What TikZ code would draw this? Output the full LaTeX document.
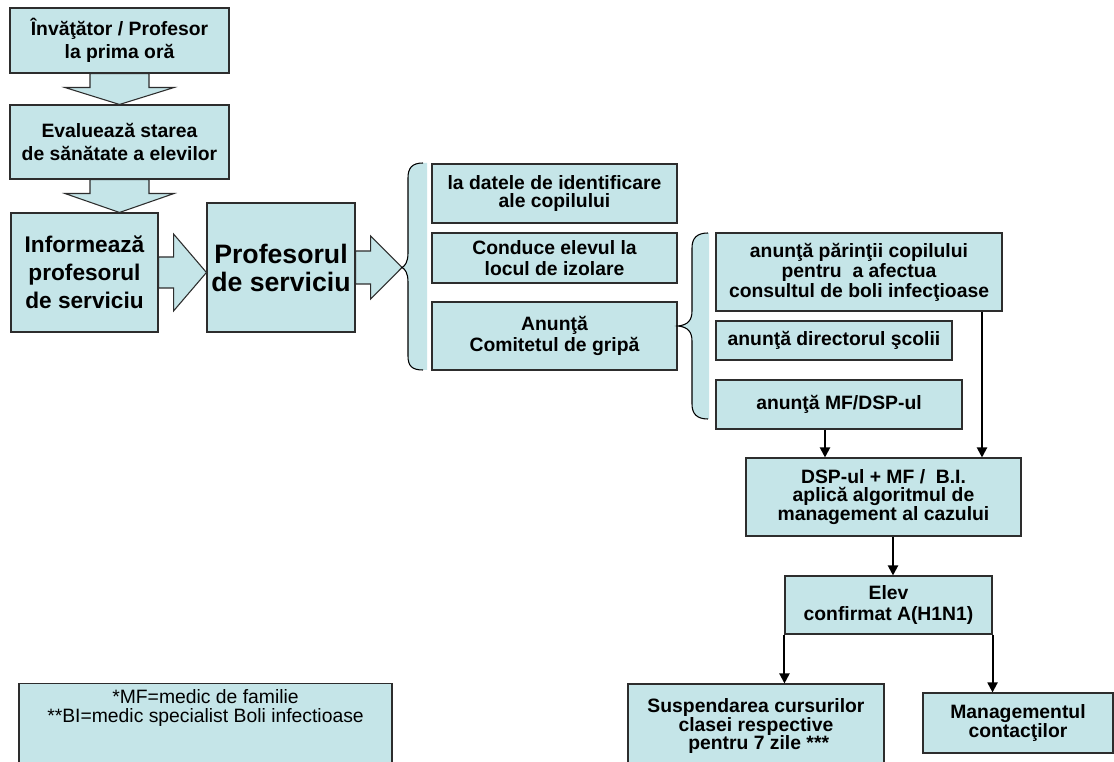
\documentclass[tikz,border=0pt]{standalone}
\usepackage{fontspec}
\setmainfont{Liberation Sans}
\usepackage{tikz}
\usetikzlibrary{ arrows.meta, calc, positioning }
\definecolor{boxfill}{RGB}{197,229,232}
\definecolor{boxline}{RGB}{45,45,45}
\tikzset{
>={Triangle[length=7.5pt,width=7.5pt]}, % filled arrow heads
box/.style={draw=boxline, line width=0.8pt, fill=boxfill, align=center, inner sep=1pt}, % every text box
sz/.style 2 args={minimum width=#1*0.75pt, minimum height=#2*0.75pt}, % box size in pixels
txt/.style={font=\bfseries\fontsize{14.5}{#1}\selectfont}, % bold text, #1 is the line skip
blockarrow/.style={draw=boxline, line width=0.8pt, fill=boxfill, line join=miter}, % fat arrows on the left
brace/.style={draw=black, line width=0.8pt},
arr/.style={->, line width=1.5pt}, % thin arrows on the right
}

\begin{document}
\begin{tikzpicture}[x=0.75pt, y=-0.75pt]%one unit is one pixel of the original
  \path[use as bounding box, fill=white] (0,0) rectangle (1114,762);

  % left column
  \node[box, sz={219}{65}, txt=17.5pt] (b1) at (119.5,40.5) {Învăţător / Profesor\\la prima oră};
  \node[box, sz={219}{74}, txt=17.5pt] (b2) at (119.5,142) {Evaluează starea\\de sănătate a elevilor};
  \node[box, sz={147}{119}, font=\bfseries\fontsize{17}{21}\selectfont] (b3) at (84.5,272.5) {Informează\\profesorul\\de serviciu};
  \node[box, sz={148}{129}, font=\bfseries\fontsize{20}{21}\selectfont] (b4) at (281,267.5) {Profesorul\\de serviciu};
  \coordinate (tip1) at (402,267.5);

  % first brace
  \node[box, sz={245}{59}, txt=13pt] (r1) at (554.5,193.5) {la datele de identificare\\ale copilului};
  \node[box, sz={245}{50}, txt=16pt] (r2) at (554.5,258) {Conduce elevul la\\locul de izolare};
  \node[box, sz={245}{68}, txt=16pt] (r3) at (554.5,336) {Anunţă\\Comitetul de gripă};
  \coordinate (tip2) at (678,326);

  % second brace
  \node[box, sz={286}{78}, txt=15pt] (s1) at (859,272) {anunţă părinţii copilului\\pentru\ \ a afectua\\consultul de boli infecţioase};
  \node[box, sz={236}{39}, txt=15pt] (s2) at (834,340.5) {anunţă directorul şcolii};
  \node[box, sz={246}{49}, txt=15pt] (s3) at (839,404.5) {anunţă MF/DSP-ul};

  % case management
  \node[box, sz={275}{78}, txt=13.75pt] (dsp) at (883.5,497) {DSP-ul + MF /\ \ B.I.\\aplică algoritmul de\\management al cazului};
  \node[box, sz={207}{58}, txt=15.5pt] (elev) at (888.5,605) {Elev\\confirmat A(H1N1)};
  \node[box, sz={256}{84}, txt=14pt] (susp) at (756,726) {Suspendarea cursurilor\\clasei respective\\\ pentru 7 zile ***};
  \node[box, sz={190}{60}, txt=14pt] (man) at (1018,723) {Managementul\\contacţilor};

  % footnotes
  \node[box, sz={373}{90}, anchor=north] (note) at (205.5,683) {};
  \node[align=center, font=\fontsize{14.5}{14.25}\selectfont] (notetext) at (205.5,708) {*MF=medic de familie\\**BI=medic specialist Boli infectioase};

  % fat arrows
  \draw[blockarrow] ($(b1.south)+(-29.5,0)$) -- ++(0,14) -- ++(-25,0) -- (b2.north)
    -- ($(b1.south)+(54.5,14)$) -- ++(-25,0) -- ++(0,-14) -- cycle;
  \draw[blockarrow] ($(b2.south)+(-29.5,0)$) -- ++(0,14) -- ++(-25,0) -- (b2.south |- b3.north)
    -- ($(b2.south)+(54.5,14)$) -- ++(-25,0) -- ++(0,-14) -- cycle;
  \draw[blockarrow] ($(b3.east)+(0,-15.5)$) -- ++(15,0) -- ++(0,-23) -- (b3.east -| b4.west)
    -- ($(b3.east)+(15,38.5)$) -- ++(0,-23) -- ++(-15,0) -- cycle;
  \draw[blockarrow] ($(b4.east)+(0,-16.5)$) -- ++(15,0) -- ++(0,-15) -- (tip1)
    -- ($(b4.east)+(15,31.5)$) -- ++(0,-15) -- ++(-15,0) -- cycle;

  % braces
  \fill[boxfill] (427,163) -- (423,163) .. controls (412,163) and (408,168) .. (408,178) -- (408,253)
    .. controls (408,262) and (405,266) .. (tip1) .. controls (405,269) and (408,273) .. (408,282)
    -- (408,356) .. controls (408,366) and (412,370) .. (423,370) -- (427,370) -- cycle;
  \draw[brace] (423,163) .. controls (412,163) and (408,168) .. (408,178) -- (408,253)
    .. controls (408,262) and (405,266) .. (tip1) .. controls (405,269) and (408,273) .. (408,282)
    -- (408,356) .. controls (408,366) and (412,370) .. (423,370);
  \fill[boxfill] (709,233) -- (708,233) .. controls (697,233) and (692,238) .. (692,248) -- (692,311)
    .. controls (692,320) and (688,325) .. (tip2) .. controls (688,327) and (692,332) .. (692,341)
    -- (692,404) .. controls (692,414) and (697,419) .. (708,419) -- (709,419) -- cycle;
  \draw[brace] (708,233) .. controls (697,233) and (692,238) .. (692,248) -- (692,311)
    .. controls (692,320) and (688,325) .. (tip2) .. controls (688,327) and (692,332) .. (692,341)
    -- (692,404) .. controls (692,414) and (697,419) .. (708,419);

  % thin arrows
  \draw[arr] ([xshift=-10.5pt]s3.south) -- ([xshift=-10.5pt]s3.south |- dsp.north);
  \draw[arr] ([xshift=92.25pt]s1.south) -- ([xshift=92.25pt]s1.south |- dsp.north);
  \draw[arr] ([xshift=7.125pt]dsp.south) -- ([xshift=7.125pt]dsp.south |- elev.north);
  \draw[arr] (elev.south west) -- (elev.south west |- susp.north);
  \draw[arr] (elev.south east) -- (elev.south east |- man.north);
\end{tikzpicture}
\end{document}
